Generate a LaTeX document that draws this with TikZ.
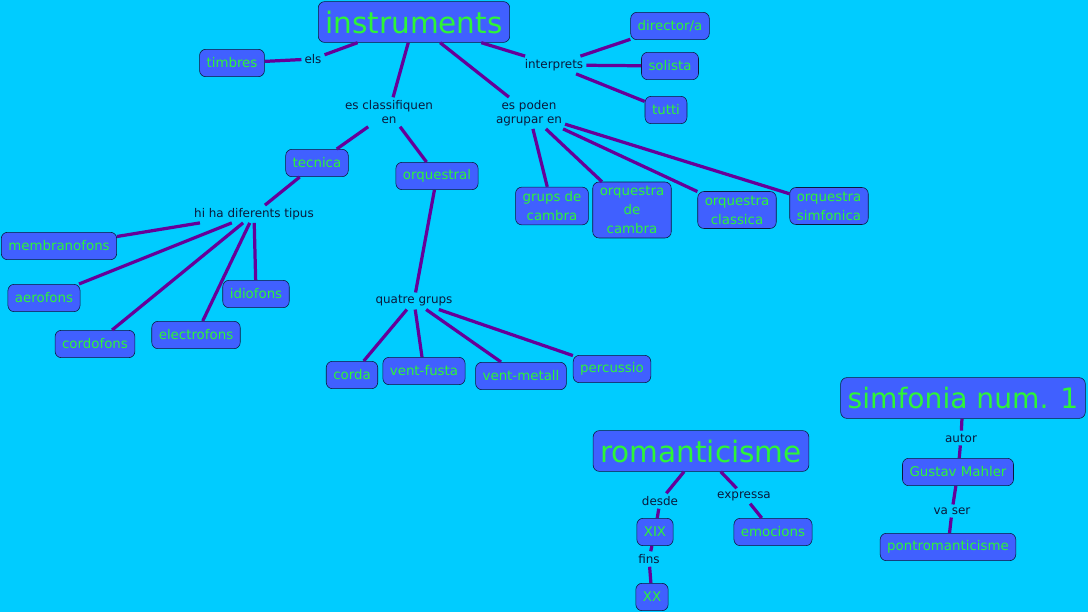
\documentclass[tikz,border=0pt]{standalone}
\usepackage{fontspec}
\setmainfont{DejaVu Sans}
\definecolor{skyback}{RGB}{0,204,255}
\definecolor{boxblue}{RGB}{64,96,255}
\definecolor{txtgreen}{RGB}{45,245,55}
\definecolor{linkpurple}{RGB}{102,0,153}
\definecolor{labnavy}{RGB}{10,25,60}
\usepackage{tikz}
\usetikzlibrary{positioning}
\tikzset{
  concept/.style={draw=labnavy,fill=boxblue,rounded corners=4.5pt,text=txtgreen,
    font=\fontsize{9.5}{13.5}\selectfont,inner xsep=5pt,inner ysep=3pt,minimum height=19.5pt,align=center},
  bigconcept/.style={concept,font=\fontsize{21}{24}\selectfont,inner xsep=5pt,minimum height=29pt},
  linklab/.style={text=labnavy,font=\fontsize{8.5}{10}\selectfont,inner sep=2pt,align=center},
  link/.style={linkpurple,line width=2.3pt},
}

\begin{document}
\begin{tikzpicture}[x=0.025cm,y=-0.025cm]
  \useasboundingbox (0,0) rectangle (1088,612);
  \fill[skyback] (0,0) rectangle (1088,612);
  % instruments
  \node[bigconcept] (instr) at (414,22) {instruments};
  \node[concept] (timbres) at (232,63) {timbres};
  \node[linklab] (els) at (313,59) {els};
  \node[linklab] (interp) at (554,65) {interprets};
  \node[concept] (director) at (670,26) {director/a};
  \node[concept] (solista) at (670,66) {solista};
  \node[concept] (tutti) at (666,110) {tutti};
  \node[linklab] (classif) at (389,112) {es classifiquen\\en};
  \node[linklab] (agrupar) at (529,113) {es poden\\agrupar en};
  \node[concept] (tecnica) at (317,163) {tecnica};
  \node[concept] (orquestral) at (437,176) {orquestral};
  \node[concept] (grups) at (552,206) {grups de\\cambra};
  \node[concept] (orqcambra) at (632,210) {orquestra\\de\\cambra};
  \node[concept] (classica) at (737,210) {orquestra\\classica};
  \node[concept] (simfonica) at (829,206) {orquestra\\simfonica};
  % tipus
  \node[linklab] (tipus) at (254,214) {hi ha diferents tipus};
  \node[concept] (membrano) at (59,246) {membranofons};
  \node[concept] (aerofons) at (44,298) {aerofons};
  \node[concept] (cordofons) at (95,344) {cordofons};
  \node[concept] (electro) at (196,335) {electrofons};
  \node[concept] (idiofons) at (256,294) {idiofons};
  % grups
  \node[linklab] (quatre) at (414,301) {quatre grups};
  \node[concept] (corda) at (352,375) {corda};
  \node[concept] (fusta) at (424,371) {vent-fusta};
  \node[concept] (metall) at (521,376) {vent-metall};
  \node[concept] (percussio) at (612,369) {percussio};
  % romanticisme
  \node[bigconcept] (roman) at (701,451) {romanticisme};
  \node[linklab] (desde) at (660,501) {desde};
  \node[linklab] (expressa) at (744,496) {expressa};
  \node[concept] (xix) at (655,532) {XIX};
  \node[linklab] (fins) at (649,559) {fins};
  \node[concept] (xx) at (652,597) {XX};
  \node[concept] (emocions) at (773,532) {emocions};
  % simfonia
  \node[bigconcept,font=\fontsize{20}{24}\selectfont] (simf) at (963,398) {simfonia num. 1};
  \node[linklab] (autor) at (961,438) {autor};
  \node[concept] (mahler) at (958,472) {Gustav Mahler};
  \node[linklab] (vaser) at (952,511) {va ser};
  \node[concept] (pontrom) at (948,547) {pontromanticisme};

  \draw[link] (instr) -- (els) (els) -- (timbres);
  \draw[link] (instr) -- (interp) (interp) -- (director) (interp) -- (solista) (interp) -- (tutti);
  \draw[link] (instr) -- (classif) (classif) -- (tecnica) (classif) -- (orquestral);
  \draw[link] (instr) -- (agrupar) (agrupar) -- (grups) (agrupar) -- (orqcambra)
    (agrupar) -- (classica) (agrupar) -- (simfonica);
  \draw[link] (tecnica) -- (tipus) (tipus) -- (membrano) (tipus) -- (aerofons)
    (tipus) -- (cordofons) (tipus) -- (electro) (tipus) -- (idiofons);
  \draw[link] (orquestral) -- (quatre) (quatre) -- (corda) (quatre) -- (fusta)
    (quatre) -- (metall) (quatre) -- (percussio);
  \draw[link] (roman) -- (desde) (desde) -- (xix) (xix) -- (fins) (fins) -- (xx);
  \draw[link] (roman) -- (expressa) (expressa) -- (emocions);
  \draw[link] (simf) -- (autor) (autor) -- (mahler) (mahler) -- (vaser) (vaser) -- (pontrom);
\end{tikzpicture}
\end{document}
